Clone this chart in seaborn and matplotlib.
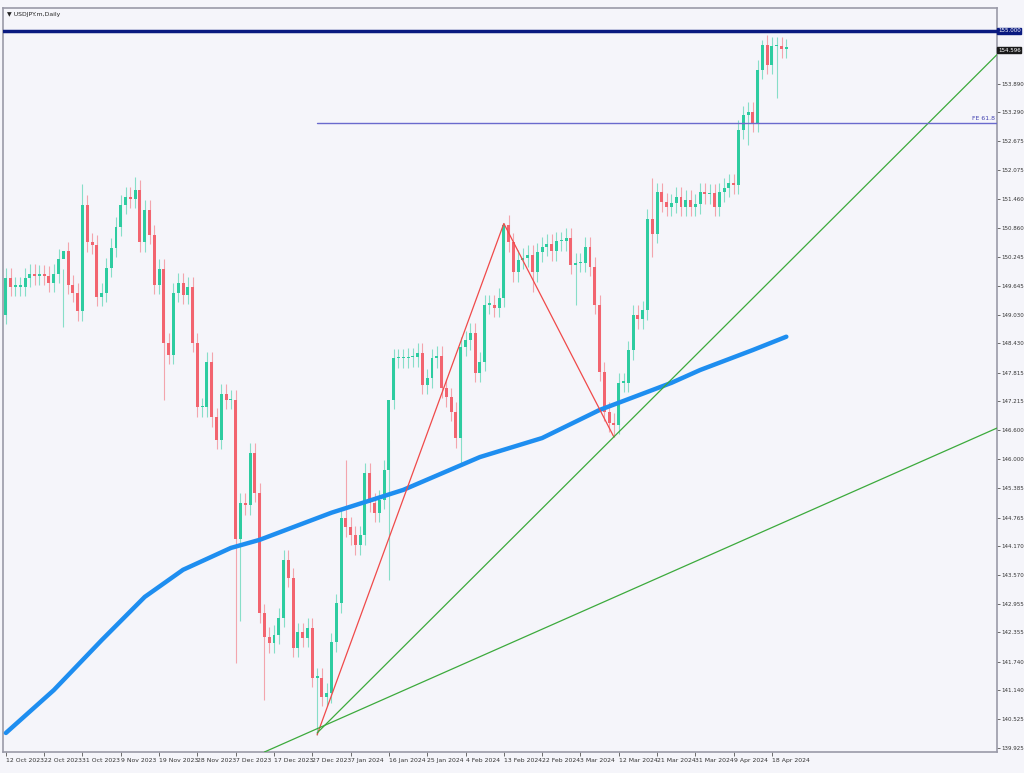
import matplotlib
matplotlib.use("Agg")
import matplotlib.pyplot as plt
import seaborn as sns
import pandas as pd
import numpy as np

closes = [149.81,149.62,149.62,149.62,149.81,149.89,149.85,149.87,149.85,149.70,
          149.89,150.21,150.37,149.66,149.49,149.11,151.34,150.56,150.50,149.41,
          149.49,150.02,150.44,150.88,151.34,151.51,151.47,151.66,150.56,151.24,
          150.71,149.66,150.00,148.44,148.19,149.49,149.70,149.45,149.62,148.44,
          147.09,147.09,148.04,146.88,146.40,147.37,147.24,147.24,144.32,145.08,
          145.03,146.13,
          145.29,142.76,142.26,142.13,142.30,142.66,143.88,143.50,142.03,142.36,
          142.24,142.45,141.40,141.40,141.00,141.08,142.15,142.97,144.76,144.57,
          144.40,144.19,144.40,145.71,145.08,144.87,145.14,145.77,147.24,148.12,
          148.12,148.12,148.14,148.14,148.23,147.56,147.70,148.12,148.17,147.49,
          147.30,146.99,146.44,148.36,148.50,148.65,147.81,148.04,
          149.24,149.24,149.18,149.39,150.92,150.56,149.93,150.19,150.23,150.29,
          149.93,150.35,150.46,150.52,150.37,150.58,150.58,150.65,150.08,150.12,
          150.12,150.46,150.04,149.24,147.83,146.99,146.76,146.72,147.60,147.60,
          148.29,149.03,148.94,149.13,151.05,150.73,
          151.61,151.40,151.30,151.38,151.51,151.30,151.45,151.30,151.36,151.61,
          151.57,151.59,151.30,151.61,151.70,151.80,151.76,152.92,153.23,153.30,
          153.07,154.18,154.71,154.29,154.68,154.68,154.62,154.62]
first_open = 149.03
wick_hi = {12: 150.0, 16: 151.77, 27: 151.93, 71: 145.98, 80: 146.4, 104: 150.95,
           135: 151.9, 158: 154.81}
wick_lo = {12: 148.78, 33: 147.24, 48: 141.71, 49: 142.6, 54: 140.93, 65: 140.2,
           80: 143.45, 95: 145.87, 110: 149.51, 119: 149.24, 127: 146.46,
           135: 150.25, 155: 152.6, 161: 153.59}
default_wick = 0.2

ma_idx = [0, 10, 20, 29, 37, 47, 53, 68, 83, 99, 112, 124, 139, 145, 156, 163]
ma_val = [140.24, 141.14, 142.19, 143.10, 143.67, 144.13, 144.30, 144.87, 145.35,
          146.04, 146.44, 147.03, 147.60, 147.87, 148.29, 148.57]

date_labels = ["12 Oct 2023","22 Oct 2023","31 Oct 2023","9 Nov 2023","19 Nov 2023",
               "28 Nov 2023","7 Dec 2023","17 Dec 2023","27 Dec 2023","7 Jan 2024",
               "16 Jan 2024","25 Jan 2024","4 Feb 2024","13 Feb 2024","22 Feb 2024",
               "3 Mar 2024","12 Mar 2024","21 Mar 2024","31 Mar 2024","9 Apr 2024",
               "18 Apr 2024"]
price_ticks = [153.890,153.290,152.675,152.075,151.460,150.860,150.245,149.645,
               149.030,148.430,147.815,147.215,146.600,146.000,145.385,144.765,144.170,
               143.570,142.955,142.355,141.740,141.140,140.525,139.925]
zigzag_idx = [65, 104, 127]
zigzag_val = [140.2, 150.95, 146.46]
trend1 = ([65, 207], [140.24, 154.50])
trend2 = ([54, 207], [139.84, 146.65])
level_155 = 155.000
fe_level = 153.07
last_price = 154.596

sns.set_theme(style="white")
plt.rcParams['font.family'] = ['DejaVu Sans']
fs = 4.4
fs_r = 4.0

n = len(closes)
opens = [first_open] + closes[:-1]
df = pd.DataFrame({"i": np.arange(n), "open": opens, "close": closes})
df["high"] = [wick_hi.get(i, max(o, c) + default_wick) for i, o, c in zip(df.i, df.open, df.close)]
df["low"] = [wick_lo.get(i, min(o, c) - default_wick) for i, o, c in zip(df.i, df.open, df.close)]

bg = "#f5f5fa"
fig = plt.figure(figsize=(10.24, 7.73), dpi=100, facecolor=bg)
ax = fig.add_axes([3/1024, 21/773, 994/1024, 744/773], facecolor=bg)

up_c, dn_c = "#2dcca0", "#f2646f"
for _, r in df.iterrows():
    col = up_c if r.close >= r.open else dn_c
    ax.vlines(r.i, r.low, r.high, color=col, lw=0.8, alpha=0.55, zorder=2)
    b = max(abs(r.close - r.open), 0.03)
    ax.bar(r.i, b, bottom=min(r.open, r.close), width=0.62, color=col, lw=0, zorder=3)

ma_df = pd.DataFrame({"i": ma_idx, "ma": ma_val})
sns.lineplot(data=ma_df, x="i", y="ma", ax=ax, color="#1e8ef0", lw=3.2, zorder=4)

ax.plot(zigzag_idx, zigzag_val, color="#f04a4a", lw=0.9, zorder=5)
ax.plot(*trend1, color="#3caa3c", lw=0.9, zorder=5)
ax.plot(*trend2, color="#3caa3c", lw=0.9, zorder=5)
ax.axhline(level_155, color="#0a1a80", lw=2.5, zorder=5)
ax.plot([65, 207], [fe_level, fe_level], color="#6a6acd", lw=1.0, zorder=5)
ax.text(206.6, fe_level + 0.03, "FE 61.8", fontsize=fs, color="#4040b0", ha="right", va="bottom")

ax.set_xlim(-0.6, 207)
ax.set_ylim(139.84, 155.48)
ax.yaxis.tick_right()
ax.set_yticks(price_ticks)
ax.set_yticklabels([f"{t:.3f}" for t in price_ticks], fontsize=fs_r, color="#333333")
ax.set_xticks(np.arange(0, 161, 8))
ax.set_xticklabels(date_labels, fontsize=fs, color="#333333", ha="left")
ax.tick_params(axis="x", length=3, width=0.6, color="#555555", pad=1.5, bottom=True)
ax.tick_params(axis="y", length=2, width=0.6, color="#555555", pad=1, right=True)
ax.set_xlabel(""); ax.set_ylabel("")
for s in ax.spines.values():
    s.set_color("#9a9aa8"); s.set_linewidth(1.2)

ax.text(207.2, level_155, "155.000", fontsize=fs_r, color="white", va="center", ha="left",
        bbox=dict(boxstyle="square,pad=0.12", fc="#0a1a80", ec="#0a1a80"), zorder=10, clip_on=False)
ax.text(207.2, last_price, "154.596", fontsize=fs_r, color="white", va="center", ha="left",
        bbox=dict(boxstyle="square,pad=0.12", fc="#1a1a1a", ec="#1a1a1a"), zorder=10, clip_on=False)
ax.text(0.004, 0.995, "▼ USDJPY.m,Daily", transform=ax.transAxes, fontsize=fs,
        color="#222222", va="top", ha="left")

fig.savefig("out.png", dpi=100, facecolor=bg)
